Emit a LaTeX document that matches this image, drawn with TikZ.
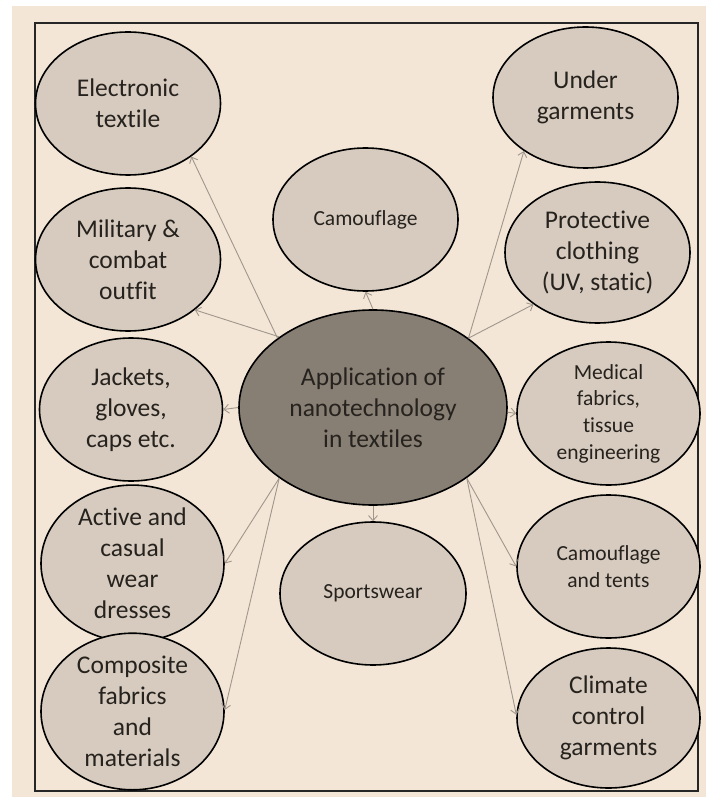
\documentclass[tikz,border=0pt]{standalone}
\usepackage{fontspec}
\setmainfont[Ligatures=NoCommon]{Carlito}
\usetikzlibrary{shapes.geometric,arrows.meta}
\definecolor{bgbeige}{RGB}{243,230,214}
\definecolor{leaf}{RGB}{214,203,190}
\definecolor{hub}{RGB}{135,126,116}
\definecolor{ink}{RGB}{38,34,30}
\definecolor{wire}{RGB}{160,150,140}
\tikzset{
  leafnode/.style={ellipse, draw=black, line width=1.6pt, fill=leaf, inner sep=0pt,
    minimum width=185pt, minimum height=143pt, align=center, text=ink,
    font=\fontsize{25.5}{31}\selectfont},
  smalltext/.style={font=\fontsize{21.5}{26.7}\selectfont},
  hubnode/.style={leafnode, fill=hub, minimum width=268pt, minimum height=195pt},
  link/.style={draw=wire, line width=0.9pt, -{Straight Barb[length=5pt,width=9pt]}}
}
\begin{document}
\begin{tikzpicture}[x=1pt,y=-1pt]
\useasboundingbox (0,0) rectangle (706,799);
\fill[white] (0,0) rectangle (706,799);
\fill[bgbeige] (12,6) rectangle (706,797);
\draw[line width=2pt, black!85] (35,23) rectangle (698,791);

% hub
\node[hubnode] (hub) at (373,407.5) {Application of\\nanotechnology\\in textiles};

% left column
\node[leafnode] (elec) at (128,103.5) {Electronic\\textile};
\node[leafnode] (mil)  at (128,259.5) {Military \&\\combat\\outfit};
\node[leafnode, minimum width=183pt] (jack) at (131,409.5) {Jackets,\\gloves,\\caps etc.};
\node[leafnode, minimum width=183pt] (act)  at (132.5,563.5) {Active and\\casual\\wear\\dresses};
\node[leafnode, minimum width=183pt] (comp) at (132.5,711.5) {Composite\\fabrics\\and\\materials};

% middle column
\node[leafnode, smalltext] (camo) at (365.5,219.5) {Camouflage};
\node[leafnode, smalltext, minimum width=186pt] (sport) at (373,593.5) {Sportswear};

% right column
\node[leafnode, minimum height=141pt] (under) at (585.5,97.5) {Under\\garments};
\node[leafnode, minimum height=141pt] (prot)  at (597.5,252.5) {Protective\\clothing\\(UV, static)};
\node[leafnode, smalltext, minimum width=183pt] (med) at (608.5,413.5) {Medical\\fabrics,\\tissue\\engineering};
\node[leafnode, smalltext, minimum width=183pt] (tent) at (608.5,566.5) {Camouflage\\and tents};
\node[leafnode, minimum width=183pt, minimum height=140pt] (clim) at (608.5,718) {Climate\\control\\garments};

% connectors
\draw[link] (hub.144) -- (elec.-40);
\draw[link] (hub.143) -- (mil.-37);
\draw[link] (hub.180) -- (jack.0);
\draw[link] (hub.217.5) -- (act.0);
\draw[link] (hub.217.5) -- (comp.1);
\draw[link] (hub.90) -- (camo.-90);
\draw[link] (hub.-90) -- (sport.90);
\draw[link] (hub.36.6) -- (under.221);
\draw[link] (hub.36.6) -- (prot.219);
\draw[link] (hub.-2.3) -- (med.180);
\draw[link] (hub.-37.4) -- (tent.180);
\draw[link] (hub.-37.4) -- (clim.178);
\end{tikzpicture}
\end{document}
